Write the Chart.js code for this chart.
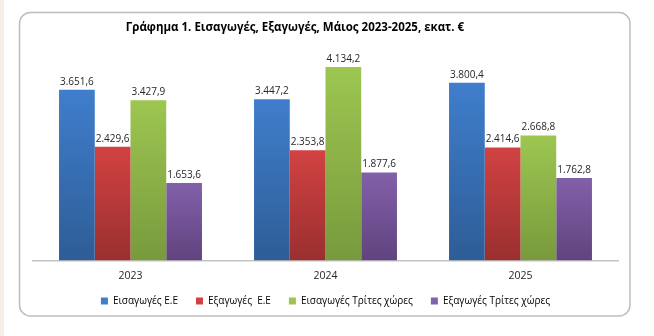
<!DOCTYPE html>
<html>
<head>
<meta charset="utf-8">
<script src="https://cdn.jsdelivr.net/npm/chart.js@4"></script>
<style>
  html, body { margin: 0; padding: 0; background: #ffffff; }
  #wrap { width: 654px; height: 336px; }
</style>
</head>
<body>
<div id="wrap"><canvas id="chart1" width="654" height="336"></canvas></div>
<script>
  const years = ['2023', '2024', '2025'];

  const seriesNames = [
    'Εισαγωγές Ε.Ε',
    'Εξαγωγές  Ε.Ε',
    'Εισαγωγές Τρίτες χώρες',
    'Εξαγωγές Τρίτες χώρες'
  ];

  const importsEU = [3651.6, 3447.2, 3800.4];
  const exportsEU = [2429.6, 2353.8, 2414.6];
  const importsThird = [3427.9, 4134.2, 2668.8];
  const exportsThird = [1653.6, 1877.6, 1762.8];

  const chartTitle = 'Γράφημα 1. Εισαγωγές, Εξαγωγές, Μάιος 2023-2025, εκατ. €';

  // top / bottom colours of each bar gradient
  const colors = [
    ['#3f7ecc', '#2e5d96'],
    ['#d24242', '#9a2f2f'],
    ['#9dc651', '#789a3d'],
    ['#8260aa', '#61437e']
  ];

  function fmt(v) {
    const parts = v.toFixed(1).split('.');
    const intPart = parts[0].replace(/\B(?=(\d{3})+(?!\d))/g, '.');
    return intPart + ',' + parts[1];
  }

  function barGradient(i) {
    return (ctx) => {
      const chart = ctx.chart;
      const area = chart.chartArea;
      if (!area || ctx.raw === undefined) return colors[i][0];
      const top = chart.scales.y.getPixelForValue(ctx.raw);
      const g = chart.ctx.createLinearGradient(0, top, 0, area.bottom);
      g.addColorStop(0, colors[i][0]);
      g.addColorStop(1, colors[i][1]);
      return g;
    };
  }

  const frame = {
    id: 'frame',
    // pull the legend a bit closer to the axis labels
    afterLayout: (chart) => {
      chart.legend.top -= 13;
      chart.legend.bottom -= 13;
    },
    beforeDraw: (chart) => {
      const {ctx} = chart;
      ctx.save();
      ctx.fillStyle = '#ffffff';
      ctx.fillRect(0, 0, chart.width, chart.height);
      ctx.fillStyle = '#f6efe9';
      ctx.fillRect(0, 0, 4, chart.height);
      ctx.strokeStyle = '#bdbdbd';
      ctx.lineWidth = 1.5;
      ctx.beginPath();
      ctx.roundRect(19.5, 12.5, 610.5, 303.5, 11);
      ctx.stroke();
      ctx.font = 'bold 11.5px "Open Sans"';
      ctx.fillStyle = '#000000';
      ctx.textAlign = 'center';
      ctx.textBaseline = 'middle';
      ctx.fillText(chartTitle, 295, 28);
      ctx.restore();
    }
  };

  const valueLabels = {
    id: 'valueLabels',
    afterDatasetsDraw: (chart) => {
      const {ctx} = chart;
      ctx.save();
      ctx.font = '10px "Open Sans"';
      ctx.fillStyle = '#262626';
      ctx.textAlign = 'center';
      ctx.textBaseline = 'bottom';
      chart.data.datasets.forEach((ds, i) => {
        chart.getDatasetMeta(i).data.forEach((bar, j) => {
          ctx.fillText(fmt(ds.data[j]), bar.x, bar.y - 3);
        });
      });
      ctx.restore();
    }
  };

  const data = {
    labels: years,
    datasets: [
      { label: seriesNames[0], data: importsEU, backgroundColor: barGradient(0) },
      { label: seriesNames[1], data: exportsEU, backgroundColor: barGradient(1) },
      { label: seriesNames[2], data: importsThird, backgroundColor: barGradient(2) },
      { label: seriesNames[3], data: exportsThird, backgroundColor: barGradient(3) }
    ]
  };

  const config = {
    type: 'bar',
    data: data,
    plugins: [frame, valueLabels],
    options: {
      responsive: false,
      animation: false,
      layout: {
        padding: { left: 33, right: 36, top: 50, bottom: 7 }
      },
      datasets: {
        bar: {
          categoryPercentage: 0.733,
          barPercentage: 1.0,
          borderWidth: 0
        }
      },
      plugins: {
        legend: {
          position: 'bottom',
          labels: {
            boxWidth: 7,
            boxHeight: 7,
            padding: 18,
            color: '#262626',
            font: { family: '"Open Sans"', size: 10 },
            generateLabels: (chart) => chart.data.datasets.map((ds, i) => ({
              text: ds.label,
              fillStyle: colors[i][0],
              strokeStyle: colors[i][0],
              lineWidth: 0,
              datasetIndex: i
            }))
          }
        },
        tooltip: { enabled: false }
      },
      scales: {
        x: {
          grid: { display: false, drawTicks: false },
          border: { display: true, color: '#c4c4c4', width: 1.5 },
          ticks: {
            color: '#262626',
            padding: 9,
            font: { family: '"Open Sans"', size: 10.5 }
          }
        },
        y: {
          display: false,
          min: 0,
          max: 4500
        }
      }
    }
  };

  const myChart = new Chart(
    document.getElementById('chart1'),
    config
  );
</script>
</body>
</html>
